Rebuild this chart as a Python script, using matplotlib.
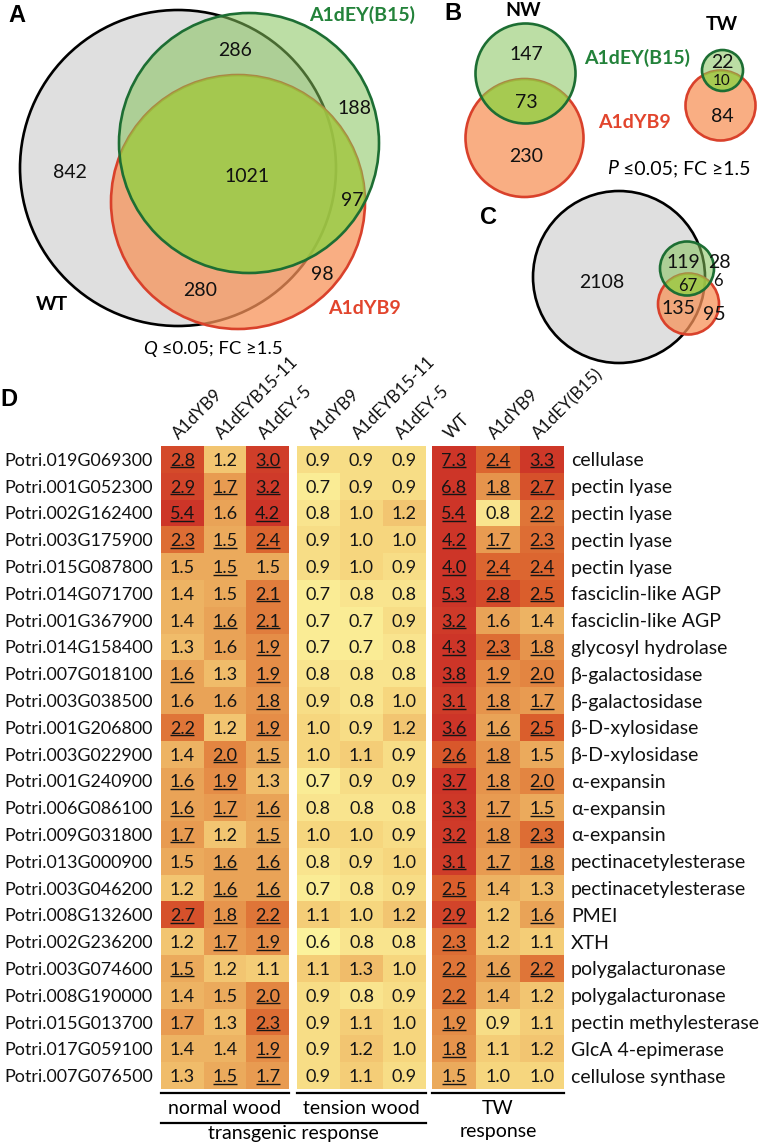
import matplotlib
matplotlib.use("Agg")
import matplotlib.pyplot as plt
from matplotlib.patches import Circle
from matplotlib.colors import LinearSegmentedColormap, Normalize
import numpy as np

plt.rcParams['font.family'] = ['Lato', 'DejaVu Sans']

# ---------------- data ----------------
# Venn A (Q<=0.05; FC>=1.5): WT, A1dEY(B15), A1dYB9
venn_a_counts = {'wt_only': 842, 'wt_ey': 286, 'ey_only': 188, 'all': 1021,
                 'ey_yb': 97, 'yb_only': 98, 'wt_yb': 280}
# Venn B (P<=0.05; FC>=1.5)
venn_b_nw = {'ey_only': 147, 'ey_yb': 73, 'yb_only': 230}
venn_b_tw = {'ey_only': 22, 'ey_yb': 10, 'yb_only': 84}
# Venn C
venn_c_counts = {'wt_only': 2108, 'wt_ey': 119, 'ey_only': 28, 'all': 67,
                 'ey_yb': 6, 'wt_yb': 135, 'yb_only': 95}

genes = ['Potri.019G069300', 'Potri.001G052300', 'Potri.002G162400', 'Potri.003G175900',
         'Potri.015G087800', 'Potri.014G071700', 'Potri.001G367900', 'Potri.014G158400',
         'Potri.007G018100', 'Potri.003G038500', 'Potri.001G206800', 'Potri.003G022900',
         'Potri.001G240900', 'Potri.006G086100', 'Potri.009G031800', 'Potri.013G000900',
         'Potri.003G046200', 'Potri.008G132600', 'Potri.002G236200', 'Potri.003G074600',
         'Potri.008G190000', 'Potri.015G013700', 'Potri.017G059100', 'Potri.007G076500']
annotations = ['cellulase', 'pectin lyase', 'pectin lyase', 'pectin lyase', 'pectin lyase',
               'fasciclin-like AGP', 'fasciclin-like AGP', 'glycosyl hydrolase',
               'β-galactosidase', 'β-galactosidase', 'β-D-xylosidase', 'β-D-xylosidase',
               'α-expansin', 'α-expansin', 'α-expansin', 'pectinacetylesterase',
               'pectinacetylesterase', 'PMEI', 'XTH', 'polygalacturonase', 'polygalacturonase',
               'pectin methylesterase', 'GlcA 4-epimerase', 'cellulose synthase']

cols_nw = ['A1dYB9', 'A1dEYB15-11', 'A1dEY-5']
cols_tw = ['A1dYB9', 'A1dEYB15-11', 'A1dEY-5']
cols_twr = ['WT', 'A1dYB9', 'A1dEY(B15)']

nw_vals = [[2.8, 1.2, 3.0], [2.9, 1.7, 3.2], [5.4, 1.6, 4.2], [2.3, 1.5, 2.4],
           [1.5, 1.5, 1.5], [1.4, 1.5, 2.1], [1.4, 1.6, 2.1], [1.3, 1.6, 1.9],
           [1.6, 1.3, 1.9], [1.6, 1.6, 1.8], [2.2, 1.2, 1.9], [1.4, 2.0, 1.5],
           [1.6, 1.9, 1.3], [1.6, 1.7, 1.6], [1.7, 1.2, 1.5], [1.5, 1.6, 1.6],
           [1.2, 1.6, 1.6], [2.7, 1.8, 2.2], [1.2, 1.7, 1.9], [1.5, 1.2, 1.1],
           [1.4, 1.5, 2.0], [1.7, 1.3, 2.3], [1.4, 1.4, 1.9], [1.3, 1.5, 1.7]]
nw_sig = [[1, 0, 1], [1, 1, 1], [1, 0, 1], [1, 1, 1], [0, 1, 0], [0, 0, 1],
          [0, 1, 1], [0, 0, 1], [1, 0, 1], [0, 0, 1], [1, 0, 1], [0, 1, 1],
          [1, 1, 0], [1, 1, 1], [1, 0, 1], [0, 1, 1], [0, 1, 1], [1, 1, 1],
          [0, 1, 1], [1, 0, 0], [0, 0, 1], [0, 0, 1], [0, 0, 1], [0, 1, 1]]
tw_vals = [[0.9, 0.9, 0.9], [0.7, 0.9, 0.9], [0.8, 1.0, 1.2], [0.9, 1.0, 1.0],
           [0.9, 1.0, 0.9], [0.7, 0.8, 0.8], [0.7, 0.7, 0.9], [0.7, 0.7, 0.8],
           [0.8, 0.8, 0.8], [0.9, 0.8, 1.0], [1.0, 0.9, 1.2], [1.0, 1.1, 0.9],
           [0.7, 0.9, 0.9], [0.8, 0.8, 0.8], [1.0, 1.0, 0.9], [0.8, 0.9, 1.0],
           [0.7, 0.8, 0.9], [1.1, 1.0, 1.2], [0.6, 0.8, 0.8], [1.1, 1.3, 1.0],
           [0.9, 0.8, 0.9], [0.9, 1.1, 1.0], [0.9, 1.2, 1.0], [0.9, 1.1, 0.9]]
tw_sig = [[0, 0, 0]] * 24
twr_vals = [[7.3, 2.4, 3.3], [6.8, 1.8, 2.7], [5.4, 0.8, 2.2], [4.2, 1.7, 2.3],
            [4.0, 2.4, 2.4], [5.3, 2.8, 2.5], [3.2, 1.6, 1.4], [4.3, 2.3, 1.8],
            [3.8, 1.9, 2.0], [3.1, 1.8, 1.7], [3.6, 1.6, 2.5], [2.6, 1.8, 1.5],
            [3.7, 1.8, 2.0], [3.3, 1.7, 1.5], [3.2, 1.8, 2.3], [3.1, 1.7, 1.8],
            [2.5, 1.4, 1.3], [2.9, 1.2, 1.6], [2.3, 1.2, 1.1], [2.2, 1.6, 2.2],
            [2.2, 1.4, 1.2], [1.9, 0.9, 1.1], [1.8, 1.1, 1.2], [1.5, 1.0, 1.0]]
twr_sig = [[1, 1, 1], [1, 1, 1], [1, 0, 1], [1, 1, 1], [1, 1, 1], [1, 1, 1],
           [1, 0, 0], [1, 1, 1], [1, 1, 1], [1, 1, 1], [1, 1, 1], [1, 1, 0],
           [1, 1, 1], [1, 1, 1], [1, 1, 1], [1, 1, 1], [1, 0, 0], [1, 0, 1],
           [1, 0, 0], [1, 1, 1], [1, 0, 0], [1, 0, 0], [1, 0, 0], [1, 0, 0]]

# ---------------- figure ----------------
W, H = 760, 1146
fig = plt.figure(figsize=(W / 100, H / 100), dpi=100)
ax = fig.add_axes([0, 0, 1, 1])
ax.set_xlim(0, W)
ax.set_ylim(H, 0)
ax.axis('off')
ax.patch.set_alpha(0)
ax.set_zorder(5)

GRAY = '#DFDFDF'
RED_F = '#F7935A'
GREEN_F = '#85C35B'
TINT = '#94DC36'
RED_E = '#D9412B'
GREEN_E = '#1D6E33'
GREEN_T = '#23823A'
RED_T = '#E2452D'
LW = 1.9
FS_NUM = 14
FS_LAB = 14
FS_LET = 17


def draw_venn(wt, ey, yb, lw=LW):
    if wt is not None:
        ax.add_patch(Circle(wt[:2], wt[2], facecolor=GRAY, edgecolor='black', lw=lw, zorder=1))
    red = Circle(yb[:2], yb[2], facecolor=RED_F, edgecolor='none', alpha=0.75, zorder=2)
    ax.add_patch(red)
    ax.add_patch(Circle(yb[:2], yb[2], facecolor='none', edgecolor=RED_E, lw=lw, zorder=3))
    ax.add_patch(Circle(ey[:2], ey[2], facecolor=GREEN_F, edgecolor='none', alpha=0.55, zorder=4))
    tint = Circle(ey[:2], ey[2], facecolor=TINT, edgecolor='none', alpha=0.5, zorder=5)
    ax.add_patch(tint)
    tint.set_clip_path(red)
    ax.add_patch(Circle(ey[:2], ey[2], facecolor='none', edgecolor=GREEN_E, lw=lw, zorder=6))


def num(x, y, v, fs=FS_NUM):
    ax.text(x, y, str(v), ha='center', va='center', fontsize=fs, color='#111111', zorder=10)


# Panel A
draw_venn((178, 168, 158), (249, 143, 130), (238, 202, 127))
num(235, 51, venn_a_counts['wt_ey'])
num(354, 108, venn_a_counts['ey_only'])
num(70, 172, venn_a_counts['wt_only'])
num(247, 177, venn_a_counts['all'])
num(352, 200, venn_a_counts['ey_yb'])
num(322, 275, venn_a_counts['yb_only'])
num(200, 291, venn_a_counts['wt_yb'])
ax.text(8, 16, 'A', fontsize=FS_LET, fontweight='bold', family='Liberation Sans', va='center')
ax.text(309, 15, 'A1dEY(B15)', fontsize=FS_LAB, fontweight='bold', color=GREEN_T, va='center')
ax.text(36, 304, 'WT', fontsize=FS_LAB, fontweight='bold', color='black', va='center')
ax.text(328, 308, 'A1dYB9', fontsize=FS_LAB, fontweight='bold', color=RED_T, va='center')
ax.text(157, 349, 'Q', fontsize=13.3, style='italic', ha='right', va='center')
ax.text(157, 349, ' ≤0.05; FC ≥1.5', fontsize=13.3, ha='left', va='center')

# Panel B
draw_venn(None, (525.5, 73.5, 50), (524.5, 138, 59))
num(526, 55, venn_b_nw['ey_only'])
num(526, 102, venn_b_nw['ey_yb'])
num(526, 156, venn_b_nw['yb_only'])
draw_venn(None, (722.5, 70.5, 20.5), (720.5, 105.5, 35))
num(722, 63, venn_b_tw['ey_only'])
num(722, 81, venn_b_tw['ey_yb'], fs=11)
num(722, 117, venn_b_tw['yb_only'])
ax.text(444, 13, 'B', fontsize=FS_LET, fontweight='bold', family='Liberation Sans', va='center')
ax.text(523, 11, 'NW', fontsize=FS_LAB, fontweight='bold', ha='center', va='center')
ax.text(722, 25, 'TW', fontsize=FS_LAB, fontweight='bold', ha='center', va='center')
ax.text(637, 58, 'A1dEY(B15)', fontsize=FS_LAB, fontweight='bold', color=GREEN_T, ha='center', va='center')
ax.text(634, 123, 'A1dYB9', fontsize=FS_LAB, fontweight='bold', color=RED_T, ha='center', va='center')
ax.text(618, 169, 'P', fontsize=14, style='italic', ha='right', va='center')
ax.text(618, 169, ' ≤0.05; FC ≥1.5', fontsize=14, ha='left', va='center')

# Panel C
draw_venn((619, 277, 86), (687, 268.5, 27), (688.5, 304, 30.5))
num(602, 282, venn_c_counts['wt_only'])
num(683, 263, venn_c_counts['wt_ey'])
num(719, 262, venn_c_counts['ey_only'])
num(688, 286, venn_c_counts['all'], fs=12)
num(718, 281, venn_c_counts['ey_yb'], fs=12)
num(678, 308, venn_c_counts['wt_yb'])
num(714, 314, venn_c_counts['yb_only'])
ax.text(480, 218, 'C', fontsize=FS_LET, fontweight='bold', family='Liberation Sans', va='center')

# Panel D heatmaps
ax.text(0, 399, 'D', fontsize=FS_LET, fontweight='bold', family='Liberation Sans', va='center')
cmap = LinearSegmentedColormap.from_list('hm', [
    (0.0, '#FBF29C'), (0.4 / 2.9, '#F6D67E'), (0.9 / 2.9, '#EBAA5C'),
    (1.4 / 2.9, '#E38541'), (1.9 / 2.9, '#DA5E2C'), (2.4 / 2.9, '#D03E29'), (1.0, '#CD3528')])
norm = Normalize(0.6, 3.5)

TOP, BOT = 446, 1089
panels = [(161, 289, nw_vals, nw_sig, cols_nw),
          (297, 426, tw_vals, tw_sig, cols_tw),
          (432, 564, twr_vals, twr_sig, cols_twr)]
nrow = len(genes)
underlined = []
for k, (x0, x1, vals, sig, cols) in enumerate(panels):
    hax = fig.add_axes([x0 / W, 1 - BOT / H, (x1 - x0) / W, (BOT - TOP) / H])
    arr = np.array(vals)
    hax.pcolormesh(arr, cmap=cmap, norm=norm)
    hax.set_xlim(0, 3)
    hax.set_ylim(nrow, 0)
    for s in hax.spines.values():
        s.set_visible(False)
    hax.set_xticks([])
    if k == 0:
        hax.set_yticks(np.arange(nrow) + 0.5, genes)
        hax.tick_params(axis='y', length=0, pad=6, labelsize=12.9, labelcolor='#111111')
    elif k == 2:
        hax.yaxis.tick_right()
        hax.set_yticks(np.arange(nrow) + 0.5, annotations)
        hax.tick_params(axis='y', length=0, pad=5, labelsize=14, labelcolor='#111111')
    else:
        hax.set_yticks([])
    for i in range(nrow):
        for j in range(3):
            t = hax.text(j + 0.5, i + 0.5, f'{arr[i, j]:.1f}', ha='center', va='center_baseline',
                         fontsize=13, color='#151515')
            if sig[i][j]:
                underlined.append(t)
    cw = (x1 - x0) / 3
    for j, c in enumerate(cols):
        ax.text(x0 + cw * (j + 0.5) - 3, 440, c, rotation=45, rotation_mode='anchor',
                ha='left', va='baseline', fontsize=12.3, color='#111111')
    ax.plot([x0, x1], [1093, 1093], color='black', lw=1.6)

ax.text(225, 1108, 'normal wood', ha='center', va='center', fontsize=14)
ax.text(361, 1108, 'tension wood', ha='center', va='center', fontsize=14)
ax.plot([161, 426], [1123, 1123], color='black', lw=1.6)
ax.text(293, 1134, 'transgenic response', ha='center', va='center', fontsize=14)
ax.text(498, 1109, 'TW', ha='center', va='center', fontsize=14)
ax.text(498, 1131, 'response', ha='center', va='center', fontsize=14)

# underline significant values (measured from rendered text extents)
fig.canvas.draw()
renderer = fig.canvas.get_renderer()
for t in underlined:
    bb = t.get_window_extent(renderer)
    yline = H - (bb.y0 + 1.5)
    ax.plot([bb.x0 + 0.5, bb.x1 - 0.5], [yline, yline], color='#151515', lw=1.0,
            solid_capstyle='butt', zorder=20)

fig.savefig('out.png', dpi=100)
